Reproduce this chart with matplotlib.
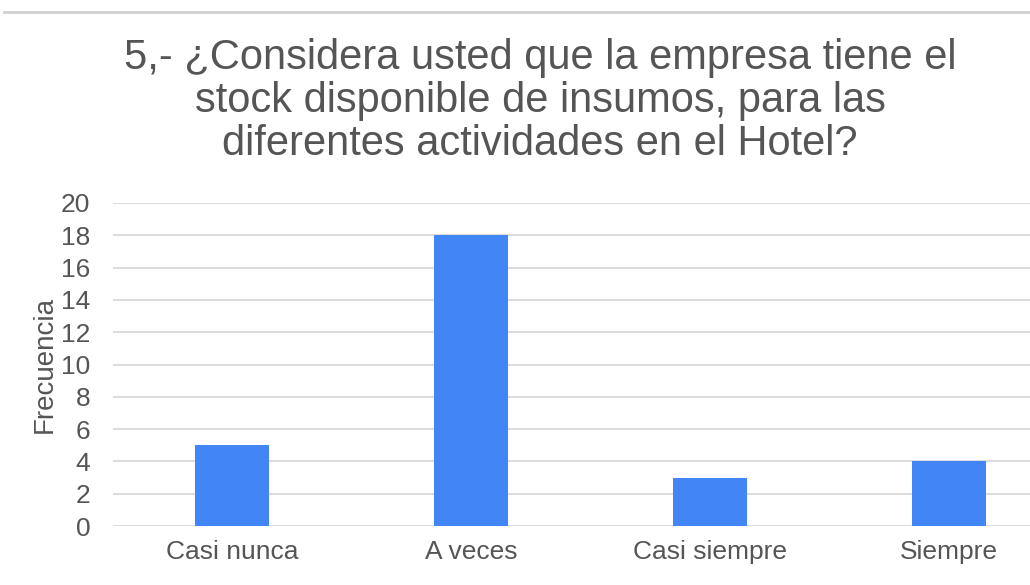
import matplotlib
matplotlib.use("Agg")
import matplotlib.pyplot as plt
from matplotlib.lines import Line2D

categorias = ["Casi nunca", "A veces", "Casi siempre", "Siempre"]
frecuencia = [5, 18, 3, 4]
yticks = [0, 2, 4, 6, 8, 10, 12, 14, 16, 18, 20]

plt.rcParams['font.family'] = ['Liberation Sans', 'DejaVu Sans']

fig = plt.figure(figsize=(10.3, 5.85), dpi=100)
W, H = 1030, 585
left, right = 112.5, 1030
top, bottom = 203, 526
ax = fig.add_axes([left / W, 1 - bottom / H, (right - left) / W, (bottom - top) / H])

x = range(len(categorias))
ax.bar(x, frecuencia, width=0.31, color='#4285F4', zorder=3)
ax.set_xlim(-0.5, (right - left) / 239 - 0.5)
ax.set_ylim(0, 20)
ax.set_yticks(yticks)
ax.set_xticks(list(x))
ax.set_xticklabels(categorias)
ax.grid(axis='y', color='#d9d9d9', linewidth=1.3, zorder=0)
for s in ax.spines.values():
    s.set_visible(False)
ax.tick_params(axis='both', length=0, labelsize=19, colors='#555555')
ax.tick_params(axis='x', pad=10)
ax.tick_params(axis='y', pad=16)
ax.set_ylabel('Frecuencia', fontsize=20, color='#555555', labelpad=2)

fig.text(540 / W, 1 - 101 / H,
         "5,- ¿Considera usted que la empresa tiene el\nstock disponible de insumos, para las\ndiferentes actividades en el Hotel?",
         ha='center', va='center', fontsize=30, color='#555555', linespacing=1.1)

fig.add_artist(Line2D([4 / W, 1], [1 - 12 / H, 1 - 12 / H], color='#d0d0d0', linewidth=2))

fig.savefig('out.png', dpi=100, facecolor='white')
